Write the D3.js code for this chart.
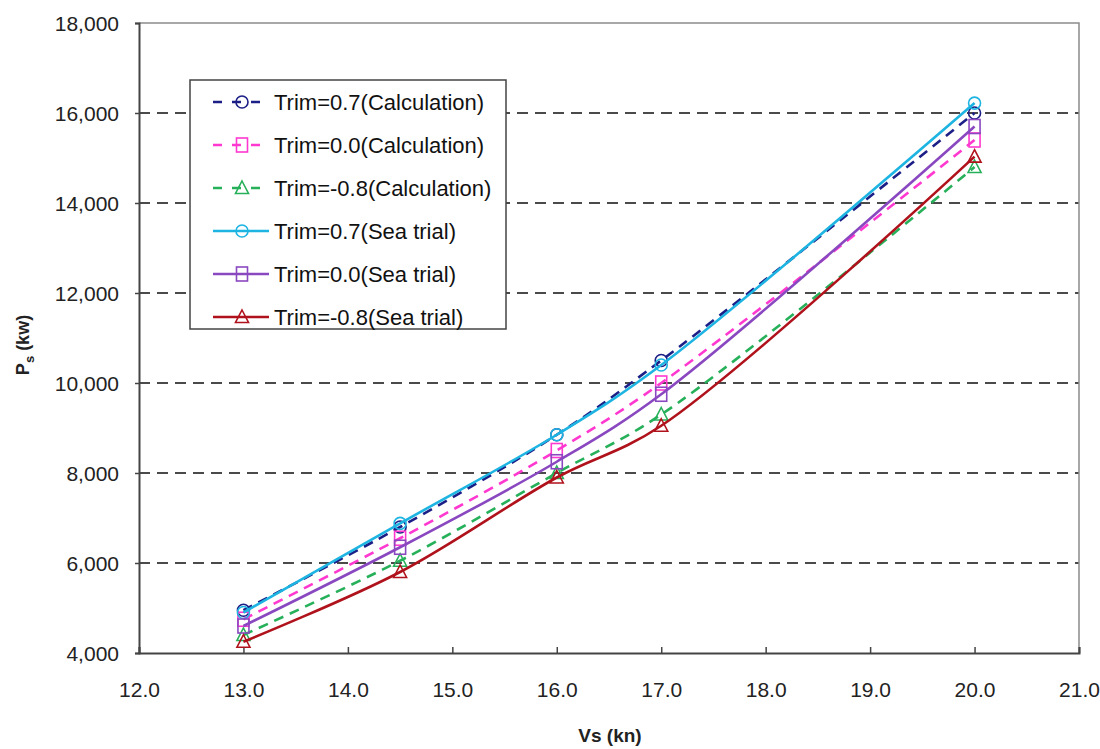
<!DOCTYPE html>
<html>
<head>
<meta charset="utf-8">
<script src="https://cdn.jsdelivr.net/npm/d3@7"></script>
<style>
  body { margin: 0; background: #fff; }
  text { font-family: Arial, "Liberation Sans", sans-serif; }
</style>
</head>
<body>
<div id="chart"></div>
<script>
// Speeds (kn)
const speeds = [13.0, 14.5, 16.0, 17.0, 20.0];

// Shaft power values (kW) per series
const calc07 = [4950, 6800, 8850, 10500, 16000];
const calc00 = [4750, 6550, 8500, 10000, 15400];
const calcM08 = [4400, 6050, 8000, 9300, 14800];
const sea07 = [4900, 6880, 8850, 10400, 16220];
const sea00 = [4600, 6350, 8250, 9750, 15700];
const seaM08 = [4250, 5800, 7900, 9050, 15030];

const seriesNames = [
    "Trim=0.7(Calculation)", "Trim=0.0(Calculation)", "Trim=-0.8(Calculation)",
    "Trim=0.7(Sea trial)", "Trim=0.0(Sea trial)", "Trim=-0.8(Sea trial)"
];
const seriesValues = [calc07, calc00, calcM08, sea07, sea00, seaM08];
const seriesColors = ["#1c1f86", "#ff38d0", "#27b05a", "#1db4e2", "#8a48c0", "#b0121c"];
const seriesMarkers = ["circle", "square", "triangle", "circle", "square", "triangle"];
const seriesDashed = [true, true, true, false, false, false];

const xTicks = [12, 13, 14, 15, 16, 17, 18, 19, 20, 21];
const yTicks = [4000, 6000, 8000, 10000, 12000, 14000, 16000, 18000];

const W = 1100, H = 749;
const margin = { top: 23, right: 21, bottom: 96, left: 139 };
const width = W - margin.left - margin.right;
const height = H - margin.top - margin.bottom;

const svg = d3.select("#chart").append("svg")
    .attr("width", W)
    .attr("height", H);

const g = svg.append("g")
    .attr("transform", `translate(${margin.left},${margin.top})`);

const x = d3.scaleLinear().domain([12, 21]).range([0, width]);
const y = d3.scaleLinear().domain([4000, 18000]).range([height, 0]);

// Grid lines (dashed)
g.append("g")
    .selectAll("line")
    .data(yTicks.filter(t => t > 4000 && t < 18000))
    .enter().append("line")
    .attr("x1", 0)
    .attr("x2", width)
    .attr("y1", d => y(d))
    .attr("y2", d => y(d))
    .attr("stroke", "#4a4a4a")
    .attr("stroke-width", 2)
    .attr("stroke-dasharray", "11,7");

// Frame (top and right)
g.append("path")
    .attr("d", `M0,0H${width}V${height}`)
    .attr("fill", "none")
    .attr("stroke", "#8c8c8c")
    .attr("stroke-width", 1.5);

// Axes
const xAxis = g.append("g")
    .attr("transform", `translate(0,${height})`)
    .call(d3.axisBottom(x).tickValues(xTicks).tickSize(-6).tickPadding(33)
        .tickFormat(d3.format(".1f")));
const yAxis = g.append("g")
    .call(d3.axisLeft(y).tickValues(yTicks).tickSize(4).tickPadding(16)
        .tickFormat(d3.format(",")));

[xAxis, yAxis].forEach(a => {
    a.select(".domain").attr("stroke", "#444").attr("stroke-width", 2);
    a.selectAll(".tick line").attr("stroke", "#444").attr("stroke-width", 1.5);
    a.selectAll("text")
        .attr("fill", "#222")
        .style("font-size", "21px")
        .style("font-family", "Arial, 'Liberation Sans', sans-serif");
});
xAxis.selectAll("text").attr("dy", "0.5em");
yAxis.selectAll("text").attr("dy", "0.36em");

// Lines
const line = d3.line()
    .x((d, i) => x(speeds[i]))
    .y(d => y(d))
    .curve(d3.curveCatmullRom.alpha(0.5));

function drawMarker(sel, type, color) {
    if (type === "circle") {
        sel.append("circle").attr("r", 6)
            .attr("fill", "none").attr("stroke", color).attr("stroke-width", 1.6);
    } else if (type === "square") {
        sel.append("rect").attr("x", -5.5).attr("y", -7).attr("width", 11).attr("height", 14)
            .attr("fill", "none").attr("stroke", color).attr("stroke-width", 1.6);
    } else {
        sel.append("path").attr("d", "M0,-7L6.5,5.5L-6.5,5.5Z")
            .attr("fill", "none").attr("stroke", color).attr("stroke-width", 1.6);
    }
}

seriesValues.forEach((vals, k) => {
    g.append("path")
        .datum(vals)
        .attr("d", line)
        .attr("fill", "none")
        .attr("stroke", seriesColors[k])
        .attr("stroke-width", 2.6)
        .attr("stroke-dasharray", seriesDashed[k] ? "10,7" : null);

    g.append("g").selectAll("g")
        .data(vals)
        .enter().append("g")
        .attr("transform", (d, i) => `translate(${x(speeds[i])},${y(d)})`)
        .each(function () { drawMarker(d3.select(this), seriesMarkers[k], seriesColors[k]); });
});

// Legend
const legend = svg.append("g").attr("transform", "translate(190,80)");
legend.append("rect")
    .attr("width", 316)
    .attr("height", 249)
    .attr("fill", "#fff")
    .attr("stroke", "#444")
    .attr("stroke-width", 1.5);

seriesNames.forEach((name, k) => {
    const row = legend.append("g").attr("transform", `translate(0,${22 + k * 43})`);
    row.append("line")
        .attr("x1", 23).attr("x2", 79)
        .attr("stroke", seriesColors[k])
        .attr("stroke-width", 2.6)
        .attr("stroke-dasharray", seriesDashed[k] ? "9,10" : null);
    const m = row.append("g").attr("transform", "translate(52,0)");
    drawMarker(m, seriesMarkers[k], seriesColors[k]);
    row.append("text")
        .attr("x", 84)
        .attr("y", 8)
        .style("font-size", "22px")
        .attr("fill", "#111")
        .text(name);
});

// Axis titles
const yl = svg.append("text")
    .attr("transform", "translate(29,345) rotate(-90)")
    .attr("text-anchor", "middle")
    .style("font-size", "18px")
    .style("font-weight", "bold")
    .attr("fill", "#222");
yl.append("tspan").text("P");
yl.append("tspan").attr("dy", 5).style("font-size", "13px").text("s");
yl.append("tspan").attr("dy", -5).text(" (kw)");

svg.append("text")
    .attr("x", 610)
    .attr("y", 742)
    .attr("text-anchor", "middle")
    .style("font-size", "19px")
    .style("font-weight", "bold")
    .attr("fill", "#222")
    .text("Vs (kn)");
</script>
</body>
</html>
